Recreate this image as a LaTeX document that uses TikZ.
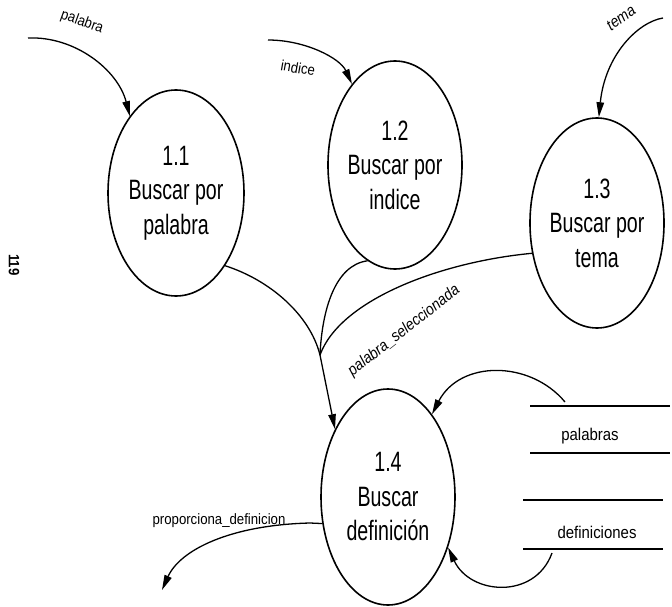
\documentclass[tikz,border=0pt]{standalone}
\usepackage{fontspec}
\newfontfamily\procfont[FakeStretch=0.7]{Liberation Sans}
\newfontfamily\flowfont[FakeStretch=0.88]{Liberation Sans}
\usetikzlibrary{shapes.geometric,arrows.meta}
\begin{document}
\begin{tikzpicture}[x=1pt,y=-1pt,
  process/.style={ellipse,draw,line width=1.6pt,inner sep=0pt,align=center,
    font=\procfont\fontsize{28}{34.5}\selectfont},
  flow/.style={line width=1.3pt},
  arrowflow/.style={flow,-{Triangle[length=15pt,width=7.5pt]}},
  flowlabel/.style={font=\flowfont\fontsize{15}{17}\selectfont,inner sep=0pt},
  storeline/.style={line width=1.4pt},
  storelabel/.style={font=\flowfont\fontsize{17}{20}\selectfont,inner sep=0pt}]
\useasboundingbox (0,0) rectangle (672,607);

% processes
\node[process,minimum width=136pt,minimum height=206pt] (p11) at (176,193) {1.1\\Buscar por\\palabra};
\node[process,minimum width=124pt,minimum height=208pt] (p12) at (395,165) {1.2\\Buscar por\\indice};
\node[process,minimum width=120pt,minimum height=210pt] (p13) at (597,223) {1.3\\Buscar por\\tema};
\node[process,minimum width=134pt,minimum height=216pt] (p14) at (388,497) {1.4\\Buscar\\definición};

% data stores
\coordinate (s1a) at (530,406); \coordinate (s1b) at (670,406);
\coordinate (s1c) at (530,453); \coordinate (s1d) at (670,453);
\coordinate (s2a) at (523,500); \coordinate (s2b) at (663,500);
\coordinate (s2c) at (523,549); \coordinate (s2d) at (663,549);
\draw[storeline] (s1a) -- (s1b);
\draw[storeline] (s1c) -- (s1d);
\draw[storeline] (s2a) -- (s2b);
\draw[storeline] (s2c) -- (s2d);
\node[storelabel] (palabras) at (590,436) {palabras};
\node[storelabel] (definiciones) at (597,532) {definiciones};

% incoming flows
\coordinate (in1) at (28,38);
\coordinate (in2) at (268,40);
\coordinate (in3) at (663,18);
\draw[arrowflow] (in1) .. controls (75,36) and (118,70) .. (p11.121);
\draw[arrowflow] (in2) .. controls (305,40) and (340,58) .. (p12.118);
\draw[arrowflow] (in3) .. controls (638,22) and (605,55) .. (p13.89);
\node[flowlabel,rotate=-20] (l1) at (82,22) {palabra};
\node[flowlabel,rotate=-10] (l2) at (298,68) {indice};
\node[flowlabel,font=\flowfont\itshape\fontsize{16}{18}\selectfont,rotate=35] (l3) at (621,18) {tema};

% merged flow into 1.4
\coordinate (j) at (320,355);
\draw[flow] (p11.-56) .. controls (270,280) and (310,315) .. (j);
\draw[flow] (p12.-106) .. controls (335,265) and (322,310) .. (j);
\draw[flow] (p13.-155) .. controls (440,262) and (340,300) .. (j);
\draw[arrowflow] (j) .. controls (326,385) .. (p14.128);
\node[flowlabel,font=\flowfont\itshape\fontsize{16}{18}\selectfont,rotate=38] (l4) at (404,331) {palabra\_seleccionada};

% store flows
\coordinate (r1) at (565,402);
\coordinate (r2) at (552,553);
\draw[arrowflow] (r1) .. controls (530,360) and (460,360) .. (p14.62);
\draw[arrowflow] (r2) .. controls (535,600) and (470,595) .. (p14.-40);

% output flow
\coordinate (out) at (162,590);
\draw[arrowflow] (p14.-158) -- (310,523) .. controls (230,525) and (180,550) .. (out);
\node[flowlabel] (l5) at (219,521) {proporciona\_definicion};

% page number
\node[font=\flowfont\bfseries\fontsize{15}{17}\selectfont,rotate=-90] (pg) at (14,265) {119};
\end{tikzpicture}
\end{document}
